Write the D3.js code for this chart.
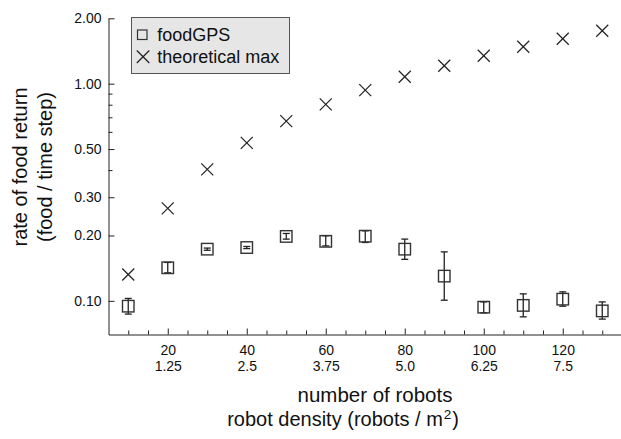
<!DOCTYPE html>
<html>
<head>
<meta charset="utf-8">
<script src="https://cdn.jsdelivr.net/npm/d3@7"></script>
<style>
  html, body { margin: 0; padding: 0; background: #fff; }
  svg { display: block; }
  text { font-family: "Liberation Sans", Arial, Helvetica, sans-serif; fill: #111; }
</style>
</head>
<body>
<svg id="chart" width="621" height="439"></svg>
<script>
// Swarm size (number of robots) for every run
const robots = [10, 20, 30, 40, 50, 60, 70, 80, 90, 100, 110, 120, 130];
// Measured food return rate with foodGPS (mean, lower and upper error bound)
const foodGPS    = [0.0945, 0.142, 0.173, 0.176, 0.198, 0.188, 0.1985, 0.173, 0.130, 0.0935, 0.0953, 0.1018, 0.0899];
const foodGPSLow = [0.0869, 0.1346, 0.171, 0.174, 0.1924, 0.1791, 0.1857, 0.1553, 0.1007, 0.0881, 0.0844, 0.0945, 0.0824];
const foodGPSHigh= [0.1026, 0.1503, 0.175, 0.178, 0.2043, 0.1993, 0.2101, 0.1925, 0.1681, 0.0989, 0.1077, 0.110, 0.0989];
// Theoretical maximum return rate
const theoreticalMax = [0.1323, 0.2665, 0.403, 0.534, 0.6725, 0.803, 0.934, 1.076, 1.209, 1.345, 1.479, 1.610, 1.753];

// Axis ticks and labels
const xMajorTicks = [20, 40, 60, 80, 100, 120];
const densityLabels = ["1.25", "2.5", "3.75", "5.0", "6.25", "7.5"];
const xMinorTicks = [10, 15, 25, 30, 35, 45, 50, 55, 65, 70, 75, 85, 90, 95, 105, 110, 115, 125, 130];
const yMajorTicks = [0.1, 0.2, 0.3, 0.5, 1, 2];
const yMinorTicks = [0.4, 0.6, 0.7, 0.8, 0.9];
const seriesNames = ["foodGPS", "theoretical max"];

const svg = d3.select("#chart");

const x = d3.scaleLinear().domain([5, 135]).range([108.5, 622]);
const y = d3.scaleLog().domain([0.07, 2]).range([334.5, 18.3]);

const axisColor = "#222";

// x axis: major ticks with two-row labels, then minor ticks
const xAxisG = svg.append("g")
  .attr("transform", "translate(0,334.5)")
  .call(d3.axisBottom(x).tickValues(xMajorTicks).tickSizeInner(-6).tickSizeOuter(0).tickPadding(0));
xAxisG.selectAll(".tick text").each(function(d, i) {
  const t = d3.select(this).text(null).attr("dy", null).attr("y", null)
    .style("font-size", "14px").attr("fill", "#111");
  t.append("tspan").attr("x", 0).attr("y", 20.5).text(String(d));
  t.append("tspan").attr("x", 0).attr("y", 36.5).text(densityLabels[i]);
});
svg.append("g")
  .attr("transform", "translate(0,334.5)")
  .call(d3.axisBottom(x).tickValues(xMinorTicks).tickSizeInner(-4).tickSizeOuter(0).tickFormat(""))
  .call(g => g.select(".domain").remove());

// y axis (log scale)
const yAxisG = svg.append("g")
  .attr("transform", "translate(108.5,0)")
  .call(d3.axisLeft(y).tickValues(yMajorTicks).tickSizeInner(-6).tickSizeOuter(0)
        .tickPadding(7).tickFormat(d3.format(".2f")));
yAxisG.selectAll(".tick text").style("font-size", "14px").attr("fill", "#111");
svg.append("g")
  .attr("transform", "translate(108.5,0)")
  .call(d3.axisLeft(y).tickValues(yMinorTicks).tickSizeInner(-4).tickSizeOuter(0).tickFormat(""))
  .call(g => g.select(".domain").remove());

svg.selectAll(".domain, .tick line").attr("stroke", axisColor).attr("stroke-width", 1);
svg.selectAll("g").attr("font-family", null).attr("font-size", null);

// Axis titles
svg.append("text")
  .attr("x", 375).attr("y", 402)
  .attr("text-anchor", "middle")
  .style("font-size", "20.5px")
  .text("number of robots");
const t2 = svg.append("text")
  .attr("x", 459).attr("y", 426)
  .attr("text-anchor", "end")
  .style("font-size", "20px");
t2.append("tspan").text("robot density (robots / m");
t2.append("tspan").attr("dx", 1).attr("dy", -7).style("font-size", "13.5px").text("2");
t2.append("tspan").attr("dx", 1).attr("dy", 7).text(")");

const yTitle = svg.append("text")
  .attr("transform", "translate(0,167) rotate(-90)")
  .attr("text-anchor", "middle")
  .style("font-size", "20px");
yTitle.append("tspan").attr("x", 0).attr("y", 27).text("rate of food return");
yTitle.append("tspan").attr("x", 0).attr("y", 52).text("(food / time step)");

// Error bars for foodGPS
const errG = svg.append("g").attr("stroke", "#222").attr("stroke-width", 1.3).attr("fill", "none");
const capW = 3.5;
robots.forEach((r, i) => {
  const cx = x(r);
  errG.append("line").attr("x1", cx).attr("x2", cx).attr("y1", y(foodGPSLow[i])).attr("y2", y(foodGPSHigh[i]));
  errG.append("line").attr("x1", cx - capW).attr("x2", cx + capW).attr("y1", y(foodGPSLow[i])).attr("y2", y(foodGPSLow[i]));
  errG.append("line").attr("x1", cx - capW).attr("x2", cx + capW).attr("y1", y(foodGPSHigh[i])).attr("y2", y(foodGPSHigh[i]));
});

// foodGPS square markers
const sq = 11.5;
svg.append("g").selectAll("rect")
  .data(robots)
  .join("rect")
  .attr("x", d => x(d) - sq / 2)
  .attr("y", (d, i) => y(foodGPS[i]) - sq / 2)
  .attr("width", sq).attr("height", sq)
  .attr("fill", "none").attr("stroke", "#333").attr("stroke-width", 1.4);

// theoretical max cross markers
const xs = 6;
const crossG = svg.append("g").attr("stroke", "#222").attr("stroke-width", 1.2);
robots.forEach((r, i) => {
  const cx = x(r), cy = y(theoreticalMax[i]);
  crossG.append("line").attr("x1", cx - xs).attr("y1", cy - xs).attr("x2", cx + xs).attr("y2", cy + xs);
  crossG.append("line").attr("x1", cx - xs).attr("y1", cy + xs).attr("x2", cx + xs).attr("y2", cy - xs);
});

// Legend
const lg = svg.append("g");
lg.append("rect").attr("x", 131.5).attr("y", 17.5).attr("width", 158).attr("height", 56)
  .attr("fill", "#e6e6e6").attr("stroke", "#555").attr("stroke-width", 1);
lg.append("rect").attr("x", 137.5).attr("y", 30).attr("width", 9.5).attr("height", 9.5)
  .attr("fill", "none").attr("stroke", "#333").attr("stroke-width", 1.2);
lg.append("line").attr("x1", 136.8).attr("y1", 50.5).attr("x2", 149.3).attr("y2", 63)
  .attr("stroke", "#222").attr("stroke-width", 1.2);
lg.append("line").attr("x1", 136.8).attr("y1", 63).attr("x2", 149.3).attr("y2", 50.5)
  .attr("stroke", "#222").attr("stroke-width", 1.2);
lg.selectAll("text.lbl")
  .data(seriesNames)
  .join("text")
  .attr("class", "lbl")
  .attr("x", 157.3)
  .attr("y", (d, i) => 40.7 + i * 22.6)
  .style("font-size", "18px")
  .text(d => d);
</script>
</body>
</html>
